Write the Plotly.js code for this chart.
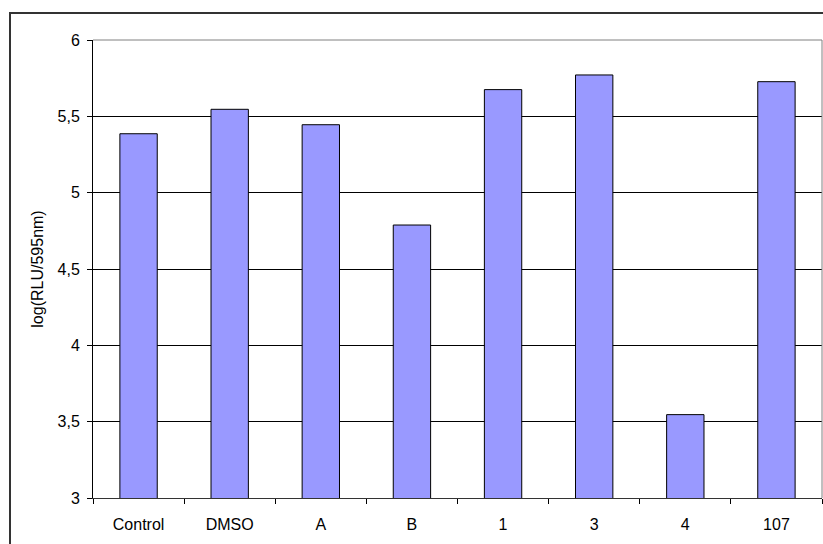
<!DOCTYPE html>
<html>
<head>
<meta charset="utf-8">
<script src="https://cdn.plot.ly/plotly-3.0.1.min.js"></script>
<style>
html,body{margin:0;padding:0;background:#fff;overflow:hidden;width:823px;height:544px;}
#wrap{position:relative;width:823px;height:544px;overflow:hidden;}
#chart{position:absolute;left:0;top:0;width:823px;height:544px;}
#frame{position:absolute;left:9px;top:12px;width:900px;height:600px;border:2px solid #333;pointer-events:none;}
</style>
</head>
<body>
<div id="wrap"><div id="chart"></div><div id="frame"></div></div>
<script>
const categories = ["Control", "DMSO", "A", "B", "1", "3", "4", "107"];
const values = [5.386, 5.546, 5.445, 4.788, 5.675, 5.771, 3.546, 5.727];
const yTitle = "log(RLU/595nm)";

const trace = {
  type: "bar",
  x: categories,
  y: values,
  marker: {color: "#9999FF", line: {color: "#000000", width: 1}},
  width: 0.41,
  hoverinfo: "none"
};

const layout = {
  width: 823, height: 544,
  margin: {l: 93, r: 1, t: 40, b: 46, pad: 0},
  paper_bgcolor: "rgba(0,0,0,0)",
  plot_bgcolor: "#ffffff",
  separators: ",.",
  showlegend: false,
  font: {family: "Liberation Sans, Arial, sans-serif", size: 16, color: "#000"},
  xaxis: {
    type: "category",
    showline: true, linecolor: "#333", linewidth: 1,
    ticks: "outside", ticklen: 5, tickcolor: "#000", tickson: "boundaries",
    showgrid: false, zeroline: false,
    tickfont: {size: 16},
    ticklabelstandoff: 12
  },
  yaxis: {
    range: [3, 6], dtick: 0.5, tick0: 3,
    showline: true, linecolor: "#000", linewidth: 1,
    ticks: "outside", ticklen: 5, tickcolor: "#000",
    showgrid: true, gridcolor: "#000", gridwidth: 1,
    zeroline: false,
    tickfont: {size: 16},
    ticklabelstandoff: 4,
    title: {text: yTitle, font: {size: 16}, standoff: 9}
  },
  shapes: [
    {type: "line", xref: "paper", yref: "paper", x0: 0, x1: 1, y0: 1, y1: 1, line: {color: "#808080", width: 1}},
    {type: "line", xref: "paper", yref: "paper", x0: 1, x1: 1, y0: 0, y1: 1, line: {color: "#808080", width: 1}}
  ]
};

Plotly.newPlot("chart", [trace], layout, {staticPlot: true, displayModeBar: false});
</script>
</body>
</html>
